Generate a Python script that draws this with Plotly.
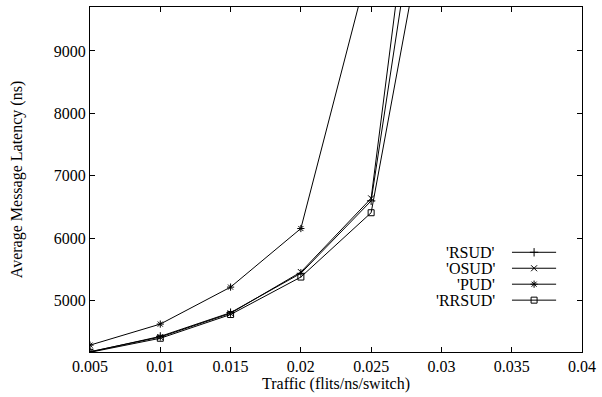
import plotly.graph_objects as go

traffic = [0.005, 0.01, 0.015, 0.02, 0.025, 0.03]
rsud = [4180, 4430, 4810, 5440, 6600, 14000]
osud = [4185, 4420, 4800, 5460, 6640, 15500]
pud = [4290, 4627, 5219, 6157, 10500, 20000]
rrsud = [4175, 4400, 4780, 5380, 6410, 12500]

names = ["'RSUD'", "'OSUD'", "'PUD'", "'RRSUD'"]
series = [rsud, osud, pud, rrsud]
symbols = ["cross-thin-open", "x-thin-open", "asterisk-open", "square-open"]

FONT = "Liberation Serif"
fig = go.Figure()
for name, ys, sym in zip(names, series, symbols):
    fig.add_trace(go.Scatter(
        x=traffic, y=ys, mode="lines+markers", name=name,
        line=dict(color="black", width=1),
        marker=dict(symbol=sym, size=6, color="black", line=dict(color="black", width=1)),
        showlegend=False, cliponaxis=True,
    ))

# gnuplot-style key: text on the left, sample line + marker on the right
for i, (name, sym) in enumerate(zip(names, symbols)):
    yk = 1 - i
    fig.add_trace(go.Scatter(
        x=[0, 1], y=[yk, yk], mode="lines", xaxis="x2", yaxis="y2",
        line=dict(color="black", width=1), showlegend=False, hoverinfo="skip"))
    fig.add_trace(go.Scatter(
        x=[0.5], y=[yk], mode="markers", xaxis="x2", yaxis="y2",
        marker=dict(symbol=sym, size=6, color="black", line=dict(color="black", width=1)),
        showlegend=False, hoverinfo="skip"))
    fig.add_annotation(x=0, y=yk, xref="x2", yref="y2", text=name, showarrow=False,
                       xanchor="right", xshift=-15, font=dict(family=FONT, size=16, color="black"))

axis_common = dict(showline=True, linecolor="black", linewidth=1, mirror="ticks",
                   ticks="inside", ticklen=5, tickcolor="black", showgrid=False,
                   zeroline=False, tickfont=dict(family=FONT, size=16, color="black"))

fig.update_layout(
    width=602, height=397,
    margin=dict(l=90, r=14, t=6, b=45),
    plot_bgcolor="white", paper_bgcolor="white",
    font=dict(family=FONT, color="black", size=16),
    xaxis=dict(range=[0.005, 0.04], tickvals=[0.005, 0.01, 0.015, 0.02, 0.025, 0.03, 0.035, 0.04],
               ticktext=["0.005", "0.01", "0.015", "0.02", "0.025", "0.03", "0.035", "0.04"],
               title=dict(text="Traffic (flits/ns/switch)", font=dict(family=FONT, size=16, color="black"), standoff=0),
               **axis_common),
    yaxis=dict(range=[4180, 9704], tickvals=[5000, 6000, 7000, 8000, 9000],
               title=dict(text="Average Message Latency (ns)", font=dict(family=FONT, size=16, color="black"), standoff=27),
               **axis_common),
    xaxis2=dict(domain=[(517 - 90) / 498, (562 - 90) / 498], range=[0, 1], visible=False, anchor="y2"),
    yaxis2=dict(domain=[(352 - 308) / 346, (352 - 244) / 346], range=[-2.5, 1.5], visible=False, anchor="x2"),
    showlegend=False,
)
fig.write_html("out.html")
